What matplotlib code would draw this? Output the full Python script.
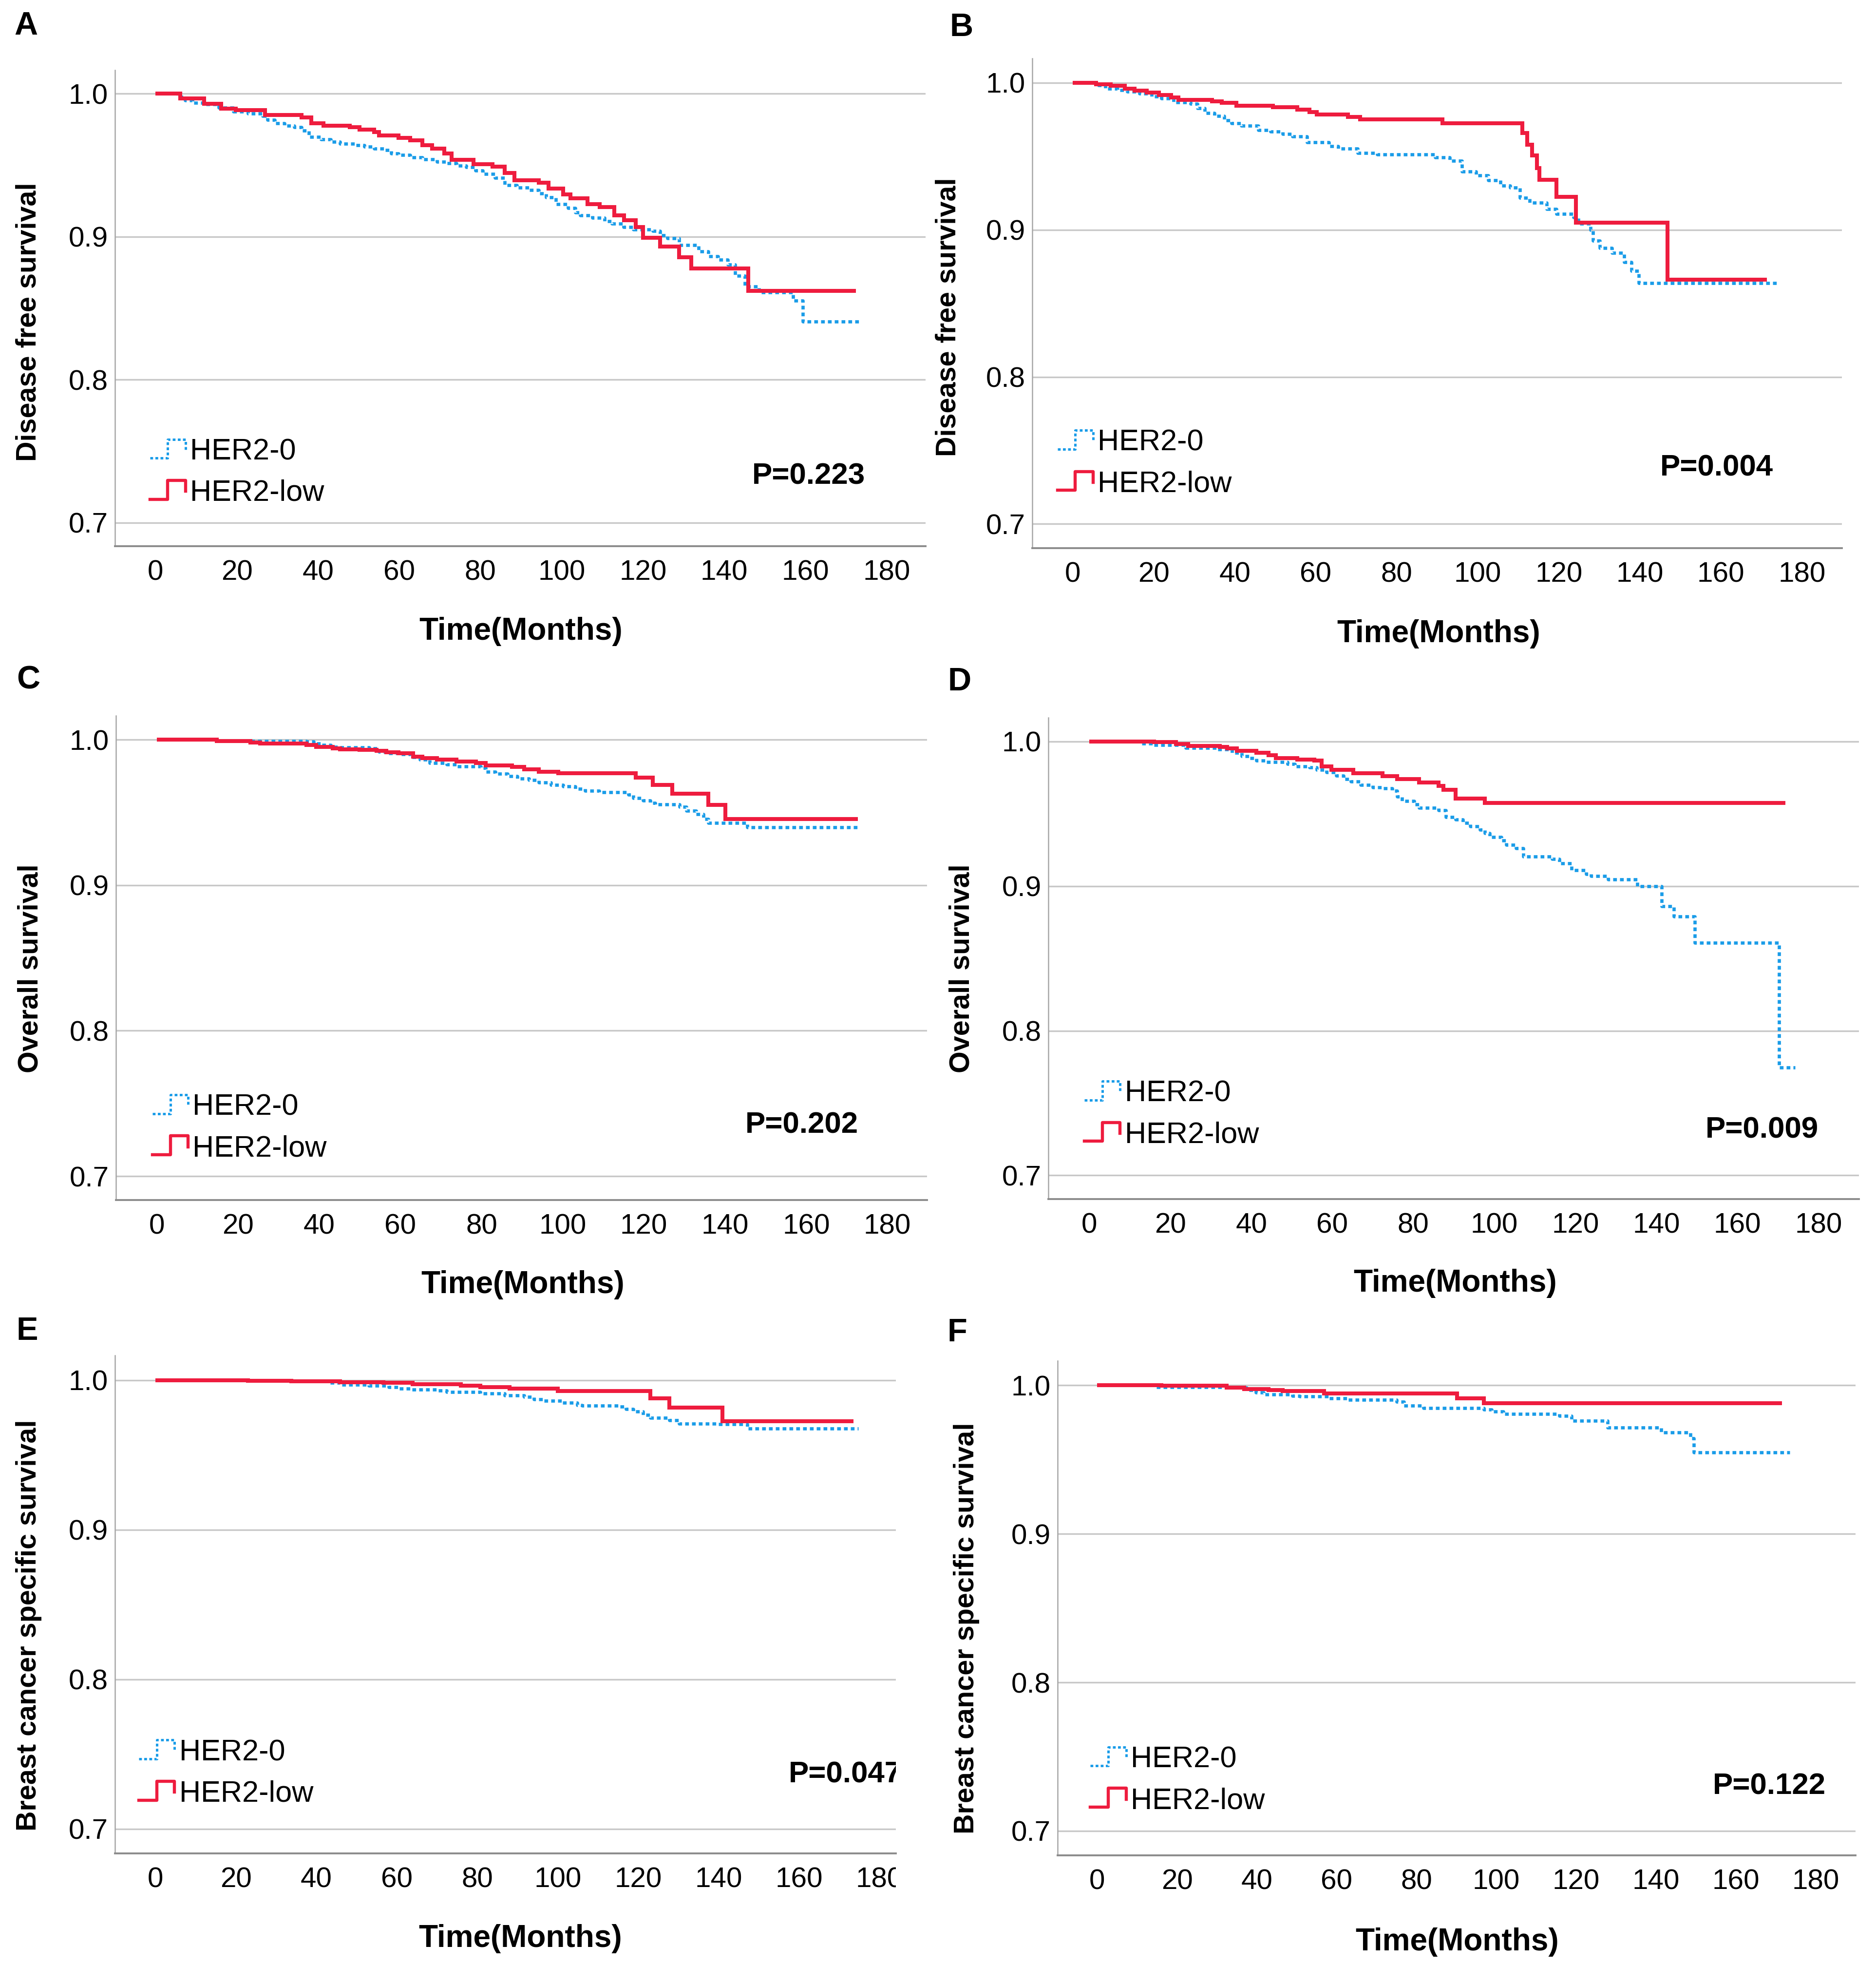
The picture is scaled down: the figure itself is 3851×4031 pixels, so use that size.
import matplotlib
matplotlib.use("Agg")
import matplotlib.pyplot as plt
import numpy as np
from matplotlib.lines import Line2D
from matplotlib.legend_handler import HandlerBase
from matplotlib.transforms import Bbox, TransformedBbox

plt.rcParams['font.family'] = ['Liberation Sans', 'DejaVu Sans']

# ---------------- data ----------------
x_ticks = [0, 20, 40, 60, 80, 100, 120, 140, 160, 180]
y_ticks = [0.7, 0.8, 0.9, 1.0]
y_tick_labels = ['0.7', '0.8', '0.9', '1.0']
groups = ['HER2-0', 'HER2-low']
panel_letters = ['A', 'B', 'C', 'D', 'E', 'F']
y_titles = ['Disease free survival', 'Disease free survival',
            'Overall survival', 'Overall survival',
            'Breast cancer specific survival', 'Breast cancer specific survival']
x_title = 'Time(Months)'
p_values = ['P=0.223', 'P=0.004', 'P=0.202', 'P=0.009', 'P=0.047', 'P=0.122']

# Panel A  (DFS)
A_her2_0_t = [5.5, 7.3, 9.1, 12.0, 15.6, 19.2, 22.8, 26.4, 27.6, 29.3, 31.7, 34.1, 35.9, 37.7, 40.7,
              43.1, 45.4, 49.0, 51.4, 53.8, 56.2, 58.0, 59.8, 62.7, 65.7, 69.3, 71.7, 74.1, 76.5, 78.8,
              80.6, 83.6, 86.0, 89.0, 92.0, 94.4, 96.1, 98.5, 101.5, 103.3, 104.5, 107.5, 110.5, 112.3,
              115.2, 117.6, 122.4, 124.2, 126.0, 128.9, 133.7, 136.1, 138.5, 140.9, 142.7, 145.1, 148.6,
              157.0, 159.4]
A_her2_0_s = [0.9977, 0.9954, 0.9937, 0.9926, 0.9903, 0.9874, 0.9863, 0.9846, 0.9817, 0.9794, 0.9777,
              0.9766, 0.9743, 0.9697, 0.9680, 0.9663, 0.9651, 0.9640, 0.9629, 0.9617, 0.9606, 0.9583,
              0.9571, 0.9554, 0.9543, 0.9526, 0.9514, 0.9497, 0.9486, 0.9463, 0.9440, 0.9411, 0.9360,
              0.9343, 0.9326, 0.9303, 0.9274, 0.9229, 0.9200, 0.9171, 0.9149, 0.9131, 0.9109, 0.9091,
              0.9069, 0.9051, 0.9040, 0.9011, 0.8989, 0.8943, 0.8897, 0.8863, 0.8840, 0.8806, 0.8726,
              0.8651, 0.8611, 0.8554, 0.8406]
A_her2_0_end = 173.7
A_her2_low_t = [6.1, 12.0, 16.2, 19.8, 27.0, 35.9, 38.3, 41.3, 47.8, 50.2, 53.8, 55.0, 59.8, 62.7, 65.7,
                68.1, 71.1, 72.9, 78.3, 83.0, 86.0, 88.4, 94.4, 96.7, 100.3, 102.1, 106.3, 109.3, 112.9,
                115.3, 118.2, 120.0, 124.2, 128.9, 131.9, 145.9]
A_her2_low_s = [0.9966, 0.9931, 0.9897, 0.9886, 0.9851, 0.9834, 0.9794, 0.9777, 0.9766, 0.9749, 0.9731,
                0.9709, 0.9691, 0.9674, 0.9640, 0.9617, 0.9583, 0.9537, 0.9509, 0.9491, 0.9446, 0.9394,
                0.9377, 0.9337, 0.9297, 0.9269, 0.9229, 0.9206, 0.9149, 0.9114, 0.9069, 0.8994, 0.8931,
                0.8857, 0.8777, 0.8623]
A_her2_low_end = 172.5

# Panel B  (DFS)
B_her2_0_t = [6.3, 8.1, 11.1, 13.5, 16.5, 19.5, 21.9, 24.9, 29.1, 30.8, 32.6, 35.0, 37.4, 39.2, 41.6,
              45.8, 48.8, 51.8, 54.2, 57.8, 63.2, 65.5, 70.3, 75.1, 89.5, 93.1, 96.1, 99.6, 102.6, 105.6,
              108.0, 110.4, 112.8, 117.0, 119.4, 123.6, 124.8, 127.8, 128.4, 130.1, 133.1, 136.1, 137.9,
              139.7]
B_her2_0_s = [0.9983, 0.9961, 0.9950, 0.9939, 0.9928, 0.9906, 0.9895, 0.9867, 0.9856, 0.9828, 0.9795,
              0.9773, 0.9745, 0.9723, 0.9707, 0.9679, 0.9668, 0.9651, 0.9635, 0.9596, 0.9568, 0.9552,
              0.9524, 0.9513, 0.9491, 0.9468, 0.9397, 0.9369, 0.9336, 0.9302, 0.9286, 0.9219, 0.9186,
              0.9142, 0.9109, 0.9086, 0.9042, 0.8998, 0.8926, 0.8876, 0.8843, 0.8782, 0.8721, 0.8638]
B_her2_0_end = 173.8
B_her2_low_t = [5.7, 9.4, 12.9, 15.3, 18.3, 21.3, 24.3, 26.1, 34.4, 36.8, 40.4, 49.4, 55.4, 58.4, 60.2,
                67.9, 70.9, 91.3, 111.0, 112.2, 113.4, 114.6, 115.2, 119.4, 124.2, 146.9]
B_her2_low_s = [0.9989, 0.9978, 0.9961, 0.9945, 0.9934, 0.9917, 0.9900, 0.9884, 0.9873, 0.9862, 0.9845,
                0.9834, 0.9817, 0.9801, 0.9784, 0.9767, 0.9751, 0.9723, 0.9657, 0.9579, 0.9507, 0.9419,
                0.9341, 0.9225, 0.9048, 0.8660]
B_her2_low_end = 171.4

# Panel C  (OS)
C_her2_0_t = [14.7, 36.8, 38.6, 40.4, 42.8, 45.1, 52.3, 54.7, 57.1, 60.1, 62.5, 64.8, 67.2, 71.4, 73.8,
              79.8, 81.0, 83.4, 86.4, 88.8, 91.7, 94.1, 97.1, 100.1, 103.1, 105.5, 109.0, 116.2, 117.4,
              119.8, 121.6, 122.8, 128.8, 130.5, 132.9, 134.7, 135.9, 145.5]
C_her2_0_s = [0.9991, 0.9986, 0.9974, 0.9963, 0.9952, 0.9946, 0.9941, 0.9918, 0.9907, 0.9902, 0.9879,
              0.9863, 0.9840, 0.9829, 0.9818, 0.9807, 0.9779, 0.9768, 0.9751, 0.9734, 0.9723, 0.9706,
              0.9689, 0.9678, 0.9662, 0.9650, 0.9639, 0.9622, 0.9600, 0.9583, 0.9567, 0.9555, 0.9539,
              0.9511, 0.9488, 0.9455, 0.9427, 0.9399]
C_her2_0_end = 173.0
C_her2_low_t = [14.7, 23.0, 25.4, 36.8, 39.2, 43.3, 45.1, 49.9, 54.1, 56.5, 59.5, 63.1, 65.4, 69.0, 73.8,
                78.6, 81.0, 87.5, 90.5, 94.1, 98.9, 118.0, 122.2, 127.0, 135.9, 140.1]
C_her2_low_s = [0.9991, 0.9982, 0.9974, 0.9963, 0.9952, 0.9941, 0.9933, 0.9930, 0.9924, 0.9913, 0.9907,
                0.9885, 0.9874, 0.9863, 0.9851, 0.9840, 0.9824, 0.9812, 0.9796, 0.9781, 0.9770, 0.9740,
                0.9689, 0.9630, 0.9552, 0.9455]
C_her2_low_end = 172.7

# Panel D  (OS)
D_her2_0_t = [13.0, 16.0, 23.8, 31.6, 35.2, 37.6, 39.4, 41.2, 43.6, 49.0, 50.8, 54.4, 56.2, 58.6, 61.0,
              62.8, 64.6, 67.0, 70.0, 72.4, 74.8, 76.0, 77.2, 80.2, 81.4, 86.2, 88.0, 90.4, 92.2, 94.0,
              96.4, 97.6, 98.8, 101.7, 102.9, 105.3, 107.1, 114.3, 116.1, 119.1, 122.7, 123.9, 128.1,
              135.3, 141.3, 144.3, 149.5, 170.3]
D_her2_0_s = [0.9987, 0.9975, 0.9955, 0.9947, 0.9923, 0.9899, 0.9884, 0.9868, 0.9860, 0.9844, 0.9828,
              0.9820, 0.9804, 0.9788, 0.9764, 0.9740, 0.9724, 0.9700, 0.9684, 0.9676, 0.9660, 0.9620,
              0.9588, 0.9564, 0.9540, 0.9524, 0.9477, 0.9461, 0.9437, 0.9413, 0.9389, 0.9365, 0.9341,
              0.9317, 0.9285, 0.9261, 0.9205, 0.9189, 0.9157, 0.9109, 0.9085, 0.9069, 0.9046, 0.8998,
              0.8862, 0.8790, 0.8607, 0.7745]
D_her2_0_end = 174.3
D_her2_low_t = [16.0, 21.4, 24.4, 32.2, 34.0, 36.4, 41.2, 44.2, 46.0, 51.4, 55.6, 57.4, 59.8, 65.2, 72.4,
                76.0, 81.4, 86.2, 87.4, 90.4, 97.6]
D_her2_low_s = [0.9995, 0.9984, 0.9971, 0.9963, 0.9952, 0.9936, 0.9923, 0.9907, 0.9884, 0.9876, 0.9868,
                0.9828, 0.9804, 0.9780, 0.9761, 0.9740, 0.9716, 0.9692, 0.9668, 0.9607, 0.9575]
D_her2_low_end = 171.9

# Panel E  (BCSS)
E_her2_0_t = [33.8, 43.5, 45.9, 53.1, 58.0, 60.3, 63.3, 70.0, 72.4, 80.8, 86.8, 91.7, 94.1, 96.5, 101.3,
              104.9, 106.1, 115.2, 117.0, 118.8, 121.2, 123.0, 127.8, 130.2, 139.9, 147.1]
E_her2_0_s = [0.9991, 0.9981, 0.9970, 0.9962, 0.9953, 0.9943, 0.9937, 0.9932, 0.9921, 0.9910, 0.9899,
              0.9888, 0.9872, 0.9861, 0.9850, 0.9834, 0.9829, 0.9823, 0.9807, 0.9791, 0.9769, 0.9747,
              0.9731, 0.9709, 0.9706, 0.9677]
E_her2_0_end = 174.8
E_her2_low_t = [23.0, 33.8, 45.9, 56.7, 64.0, 76.0, 80.8, 88.0, 100.1, 123.0, 127.8, 141.0]
E_her2_low_s = [0.9997, 0.9991, 0.9986, 0.9981, 0.9973, 0.9964, 0.9953, 0.9943, 0.9926, 0.9877, 0.9818,
                0.9726]
E_her2_low_end = 173.6

# Panel F  (BCSS)
F_her2_0_t = [14.9, 32.5, 37.4, 39.8, 41.7, 48.9, 50.8, 58.1, 62.9, 75.1, 76.9, 81.7, 96.9, 98.8, 101.8,
              115.8, 118.8, 127.9, 141.3, 148.6, 149.5]
F_her2_0_s = [0.9987, 0.9984, 0.9967, 0.9951, 0.9940, 0.9929, 0.9924, 0.9913, 0.9902, 0.9891, 0.9864,
              0.9847, 0.9836, 0.9825, 0.9809, 0.9793, 0.9760, 0.9716, 0.9683, 0.9645, 0.9547]
F_her2_0_end = 173.5
F_her2_low_t = [16.1, 32.5, 36.8, 42.9, 46.5, 56.8, 90.2, 96.9]
F_her2_low_s = [0.9998, 0.9984, 0.9976, 0.9967, 0.9962, 0.9945, 0.9913, 0.9880]
F_her2_low_end = 171.6

curves = {
    'A': [(A_her2_0_t, A_her2_0_s, A_her2_0_end), (A_her2_low_t, A_her2_low_s, A_her2_low_end)],
    'B': [(B_her2_0_t, B_her2_0_s, B_her2_0_end), (B_her2_low_t, B_her2_low_s, B_her2_low_end)],
    'C': [(C_her2_0_t, C_her2_0_s, C_her2_0_end), (C_her2_low_t, C_her2_low_s, C_her2_low_end)],
    'D': [(D_her2_0_t, D_her2_0_s, D_her2_0_end), (D_her2_low_t, D_her2_low_s, D_her2_low_end)],
    'E': [(E_her2_0_t, E_her2_0_s, E_her2_0_end), (E_her2_low_t, E_her2_low_s, E_her2_low_end)],
    'F': [(F_her2_0_t, F_her2_0_s, F_her2_0_end), (F_her2_low_t, F_her2_low_s, F_her2_low_end)],
}

# ---------------- layout (pixels of the 3851x4031 canvas) ----------------
W, H, DPI = 3851, 4031, 200
layout = {
    'A': dict(ax=(236, 144, 1900, 1121), xlim=(-10.0, 189.6), ylab=(59, 661), xlab=(1069, 1296),
              letter=(53, 54), leg=(-1.4, 0.735), p=(174.7, 0.7324), clip=False),
    'B': dict(ax=(2119, 120, 3781, 1125), xlim=(-10.0, 189.9), ylab=(1947, 651), xlab=(2953, 1301),
              letter=(1974, 57), leg=(-3.8, 0.741), p=(173.0, 0.738), clip=False),
    'C': dict(ax=(238, 1469, 1903, 2463), xlim=(-10.1, 189.8), ylab=(63, 1988), xlab=(1073, 2637),
              letter=(58, 1396), leg=(-1.1, 0.733), p=(172.9, 0.735), clip=False),
    'D': dict(ax=(2152, 1473, 3816, 2461), xlim=(-10.1, 190.0), ylab=(1974, 1988), xlab=(2987, 2634),
              letter=(1970, 1400), leg=(-1.2, 0.742), p=(180.0, 0.731), clip=False),
    'E': dict(ax=(236, 2782, 1839, 3804), xlim=(-10.05, 184.1), ylab=(59, 3336), xlab=(1068, 3979),
              letter=(56, 2733), leg=(-4.1, 0.737), p=(185.6, 0.736), clip=True),
    'F': dict(ax=(2171, 2793, 3809, 3808), xlim=(-9.9, 190.0), ylab=(1984, 3342), xlab=(2991, 3986),
              letter=(1965, 2736), leg=(-1.7, 0.734), p=(182.6, 0.730), clip=False),
}
YLIM = (0.6836, 1.0165)

BLUE = '#1A9CE8'
RED = '#EE1C3E'
GRID = '#C8C8C8'
BLUE_LS = (0, (1.15, 0.95))


class StepHandler(HandlerBase):
    """SPSS-like step shaped legend key."""
    def create_artists(self, legend, orig_handle, xdescent, ydescent, width, height, fontsize, trans):
        xs = np.array([0.0, 0.5, 0.5, 1.0, 1.0]) * width - xdescent
        ys = np.array([0.05, 0.05, 1.0, 1.0, 0.45]) * height - ydescent
        line = Line2D(xs, ys)
        self.update_prop(line, orig_handle, legend)
        line.set_transform(trans)
        return [line]


def fx(x):
    return x / W


def fy(y):
    return 1 - y / H


fig = plt.figure(figsize=(W / DPI, H / DPI), dpi=DPI)
fig.patch.set_facecolor('white')

styles = [dict(color=BLUE, lw=2.4, ls=BLUE_LS, zorder=3),
          dict(color=RED, lw=2.9, ls='-', zorder=4)]
legend_lw = [1.8, 2.3]

for i, key in enumerate(panel_letters):
    L = layout[key]
    l, t, r, b = L['ax']
    ax = fig.add_axes([fx(l), fy(b), (r - l) / W, (b - t) / H])
    ax.set_xlim(*L['xlim'])
    ax.set_ylim(*YLIM)

    for (tt, ss, end), st in zip(curves[key], styles):
        xs = [0.0] + list(tt) + [end]
        ys = [1.0] + list(ss) + [ss[-1]]
        ax.step(xs, ys, where='post', solid_capstyle='butt', dash_capstyle='butt',
                solid_joinstyle='miter', **st)

    # axes styling
    ax.set_xticks(x_ticks)
    ax.set_xticklabels([str(v) for v in x_ticks])
    ax.set_yticks(y_ticks)
    ax.set_yticklabels(y_tick_labels)
    ax.tick_params(axis='both', length=0, labelsize=21, colors='black')
    ax.tick_params(axis='x', pad=10)
    ax.tick_params(axis='y', pad=5)
    ax.yaxis.grid(True, color=GRID, lw=1.2)
    ax.xaxis.grid(False)
    ax.set_axisbelow(True)
    for s in ['top', 'right']:
        ax.spines[s].set_visible(False)
    ax.spines['left'].set_color('#A6A6A6')
    ax.spines['left'].set_linewidth(0.9)
    ax.spines['bottom'].set_color('#8C8C8C')
    ax.spines['bottom'].set_linewidth(1.4)

    # axis titles
    ax.set_ylabel(y_titles[i], fontsize=20.7, fontweight='bold')
    ax.yaxis.label.set_va('center')
    ax.yaxis.set_label_coords(fx(L['ylab'][0]), fy(L['ylab'][1]), transform=fig.transFigure)
    ax.set_xlabel(x_title, fontsize=23, fontweight='bold')
    ax.xaxis.label.set_va('center')
    ax.xaxis.set_label_coords(fx(L['xlab'][0]), fy(L['xlab'][1]), transform=fig.transFigure)

    # legend
    handles = []
    for st, lw in zip(styles, legend_lw):
        handles.append(Line2D([], [], color=st['color'], ls=st['ls'], lw=lw))
    ax.legend(handles, groups, handler_map={Line2D: StepHandler()},
              loc='center left', bbox_to_anchor=L['leg'], bbox_transform=ax.transData,
              frameon=False, borderpad=0, borderaxespad=0, handlelength=1.2,
              handleheight=0.65, handletextpad=0.15, labelspacing=0.45, fontsize=22)

    # p-value
    ax.text(L['p'][0], L['p'][1], p_values[i], ha='right', va='center', fontsize=22.3,
            fontweight='bold', clip_on=L['clip'])

    if L['clip']:
        clipbox = TransformedBbox(Bbox([[0, -1], [1, 1]]), ax.transAxes)
        for tk in ax.xaxis.get_major_ticks():
            tk.label1.set_clip_on(True)
            tk.label1.set_clip_box(clipbox)

    # panel letter
    fig.text(fx(L['letter'][0]), fy(L['letter'][1]), key, ha='center', va='center',
             fontsize=24, fontweight='bold', family=['Liberation Sans', 'DejaVu Sans'])

fig.savefig('out.png', dpi=DPI, facecolor='white')
